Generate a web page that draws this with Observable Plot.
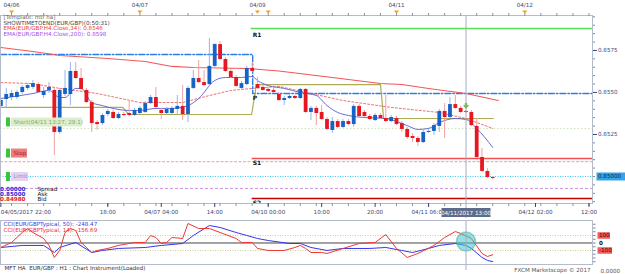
<!DOCTYPE html>
<html>
<head>
<meta charset="utf-8">
<script src="https://cdn.jsdelivr.net/npm/d3@7"></script>
<script src="https://cdn.jsdelivr.net/npm/@observablehq/plot@0.6"></script>
<style>
  html, body { margin: 0; padding: 0; background: #ffffff; }
  #chart { position: relative; width: 625px; height: 274px; overflow: hidden; background: #fff; }
  #chart > div { position: absolute; left: 0; }
</style>
</head>
<body>
<div id="chart"><div id="price" style="top:0px"></div><div id="cci" style="top:218px"></div></div>
<script>
// ---------------- data ----------------
// Heikin-Ashi H1 candles: [bar, open, high, low, close]  (bar 0 = 04/05/2017 22:00)
const candles = [
[0,0.85417,0.85470,0.85405,0.85452],[1,0.85458,0.85524,0.85411,0.85488],[2,0.85470,0.85512,0.85452,0.85494],
[3,0.85470,0.85512,0.85458,0.85500],[4,0.85500,0.85541,0.85488,0.85530],[5,0.85524,0.85553,0.85512,0.85541],
[6,0.85530,0.85571,0.85518,0.85553],[7,0.85547,0.85559,0.85494,0.85500],[8,0.85482,0.85530,0.85464,0.85506],
[9,0.85512,0.85559,0.85494,0.85530],[10,0.85512,0.85524,0.85125,0.85262],[11,0.85262,0.85524,0.85250,0.85512],
[12,0.85488,0.85631,0.85476,0.85524],[13,0.85488,0.85678,0.85422,0.85625],[14,0.85625,0.85678,0.85577,0.85583],
[15,0.85583,0.85643,0.85512,0.85518],[16,0.85512,0.85524,0.85434,0.85440],[17,0.85440,0.85452,0.85262,0.85315],
[18,0.85321,0.85333,0.85274,0.85309],[19,0.85315,0.85375,0.85303,0.85363],[20,0.85369,0.85399,0.85357,0.85387],
[21,0.85381,0.85393,0.85339,0.85345],[22,0.85345,0.85381,0.85339,0.85369],[23,0.85369,0.85381,0.85357,0.85363],
[24,0.85375,0.85452,0.85357,0.85363],[25,0.85363,0.85405,0.85357,0.85393],[26,0.85375,0.85417,0.85369,0.85405],
[27,0.85381,0.85446,0.85375,0.85434],[28,0.85434,0.85482,0.85428,0.85470],[29,0.85470,0.85530,0.85405,0.85411],
[30,0.85393,0.85405,0.85339,0.85375],[31,0.85375,0.85411,0.85369,0.85399],[32,0.85375,0.85417,0.85369,0.85405],
[33,0.85399,0.85482,0.85363,0.85417],[34,0.85417,0.85541,0.85333,0.85369],[35,0.85369,0.85536,0.85321,0.85524],
[36,0.85524,0.85631,0.85518,0.85583],[37,0.85583,0.85690,0.85553,0.85559],[38,0.85559,0.85631,0.85536,0.85541],
[39,0.85547,0.85821,0.85536,0.85655],[40,0.85655,0.85791,0.85649,0.85785],[41,0.85785,0.85803,0.85690,0.85696],
[42,0.85696,0.85708,0.85619,0.85625],[43,0.85625,0.85637,0.85583,0.85589],[44,0.85589,0.85601,0.85530,0.85536],
[45,0.85524,0.85565,0.85512,0.85553],[46,0.85547,0.85655,0.85541,0.85643],[47,0.85643,0.85678,0.85619,0.85625],
[48,0.85547,0.85589,0.85518,0.85524],[49,0.85530,0.85541,0.85506,0.85512],[50,0.85518,0.85530,0.85500,0.85506],
[51,0.85512,0.85524,0.85494,0.85500],[52,0.85488,0.85500,0.85446,0.85452],[53,0.85452,0.85476,0.85422,0.85464],
[54,0.85464,0.85488,0.85458,0.85476],[55,0.85476,0.85482,0.85458,0.85464],[56,0.85464,0.85524,0.85458,0.85518],
[57,0.85518,0.85524,0.85375,0.85381],[58,0.85381,0.85417,0.85333,0.85405],[59,0.85405,0.85417,0.85303,0.85375],
[60,0.85381,0.85422,0.85333,0.85339],[61,0.85339,0.85351,0.85274,0.85280],[62,0.85274,0.85351,0.85256,0.85327],
[63,0.85327,0.85339,0.85286,0.85292],[64,0.85292,0.85339,0.85286,0.85327],[65,0.85327,0.85339,0.85303,0.85309],
[66,0.85309,0.85428,0.85292,0.85417],[67,0.85417,0.85428,0.85351,0.85357],[68,0.85381,0.85393,0.85351,0.85357],
[69,0.85357,0.85369,0.85333,0.85339],[70,0.85333,0.85375,0.85327,0.85363],[71,0.85363,0.85375,0.85339,0.85345],
[72,0.85345,0.85482,0.85321,0.85327],[73,0.85327,0.85363,0.85321,0.85351],[74,0.85345,0.85357,0.85303,0.85309],
[75,0.85315,0.85327,0.85262,0.85280],[76,0.85280,0.85292,0.85220,0.85232],[77,0.85238,0.85256,0.85202,0.85226],
[78,0.85226,0.85238,0.85179,0.85202],[79,0.85202,0.85274,0.85196,0.85262],[80,0.85262,0.85280,0.85256,0.85268],
[81,0.85268,0.85315,0.85244,0.85303],[82,0.85298,0.85399,0.85262,0.85387],[83,0.85387,0.85434,0.85226,0.85351],
[84,0.85351,0.85470,0.85345,0.85428],[85,0.85428,0.85482,0.85399,0.85405],[86,0.85405,0.85417,0.85375,0.85381],
[87,0.85387,0.85393,0.85375,0.85381],[88,0.85381,0.85393,0.85298,0.85303],[89,0.85298,0.85345,0.85107,0.85113],
[90,0.85113,0.85167,0.85024,0.85030],[91,0.85030,0.85048,0.84988,0.84994],[92,0.84994,0.85000,0.84982,0.84988]
];

// EMA(EUR/GBP.H4.Close,34) as drawn on H1 chart: [bar, price]
const ema34H4 = [[0,0.85768],[6,0.85744],[11,0.85720],[20,0.85702],[27,0.85684],[32,0.85655],[36,0.85649],
  [46,0.85643],[52,0.85628],[62,0.85589],[71,0.85553],[75,0.85547],[80,0.85524],[87,0.85494],[93,0.85452]];
// fast moving average (thin purple)
const fastMA = [[0,0.85464],[6,0.85494],[9,0.85512],[11,0.85470],[12,0.85470],[14,0.85524],[15,0.85524],
  [17,0.85440],[19,0.85422],[21,0.85405],[24,0.85393],[26,0.85393],[29,0.85405],[32,0.85405],[35,0.85422],
  [37,0.85464],[40,0.85571],[42,0.85589],[45,0.85589],[47,0.85595],[48,0.85571],[50,0.85541],[53,0.85524],
  [56,0.85500],[59,0.85482],[61,0.85422],[63,0.85381],[65,0.85363],[68,0.85351],[72,0.85345],[76,0.85303],
  [78,0.85280],[80,0.85286],[82,0.85321],[85,0.85345],[87,0.85339],[89,0.85286],[92,0.85173]];
// slower dotted average (light red)
const slowMA = [[0,0.85559],[6,0.85553],[11,0.85524],[18,0.85494],[26,0.85440],[34,0.85440],[39,0.85482],
  [43,0.85512],[47,0.85524],[52,0.85536],[64,0.85452],[73,0.85411],[82,0.85381],[87,0.85345],[92,0.85286]];
// olive step line
const oliveLine = [[0,0.85411],[22.8,0.85411],[23.9,0.85369],[46.9,0.85369],[47.8,0.85547],[71,0.85547],
  [71.6,0.85345],[92.1,0.85345]];
// weekly pivot (blue dash-dot): previous week then current week
const pivotLine = [[0,0.85726],[47.1,0.85726],[47.1,0.85494],[110.66,0.85494]];
const pivotStartBar = 47;
const r1Level = 0.85881, pLevel = 0.85494, s1Level = 0.85107, s2Level = 0.84869;
// order / quote levels
const shortLevel = 0.85286, stopLevel = 0.85089, limitLevel = 0.85000, lowerLevel = 0.84929;

// axes
const xDom = [-0.07, 110.66];
const yDom = [0.848393, 0.85958];
const topTickBars = [2, 26, 48, 74, 98];
const topTickLabels = ["04/06", "04/07", "04/09", "04/11", "04/12"];
const dayMarkerBars = [2, 26, 48, 50, 74, 98];
const timeTickBars = [20, 30, 40, 50, 60, 70, 80, 100, 110];
const timeTickLabels = ["18:00", "04/07 04:00", "14:00", "04/10 00:00", "10:00", "20:00", "04/11 06:00", "04/12 02:00", "12:00"];
const firstTimeLabel = "04/05/2017 22:00";
const cursorBar = 87;
const cursorLabel = "04/11/2017 13:00";
const priceTicks = [0.8575, 0.8550, 0.8525];
const currentPriceLabel = "0.85000";

// texts
const legendTexts = ["[Template: mtf ha]", "SHOWTIMETOEND(EUR/GBP)(0:50:31)",
  "EMA(EUR/GBP.H4.Close,34): 0.8546", "EMA(EUR/GBP.H4.Close,200): 0.8598"];
const legendColors = ["#6a6a6a", "#444444", "#f03a3a", "#a24ef0"];
const quoteValues = ["0.00000", "0.85000", "0.84980"];
const quoteNames = ["Spread", "Ask", "Bid"];
const quoteColors = ["#2a2ad8", "#2a2ad8", "#e02020"];

// CCI: [bar, value]
const cci50 = [[0,-60],[4,-33],[8,-33],[10,-127],[11,-60],[14,7],[17,-127],[19,-100],[22,-73],[27,-60],
  [30,-33],[34,-7],[36,100],[39,233],[41,207],[44,140],[46,100],[48,60],[50,33],[54,-7],[56,-7],[58,-60],
  [61,-100],[64,-73],[69,-73],[72,-60],[75,-100],[77,-127],[80,-73],[82,-33],[85,-7],[87,-33],[88,-73],
  [90,-193],[91,-233],[92,-248]];
const cci14 = [[0,-60],[2,7],[4,140],[5,193],[6,140],[8,60],[9,-33],[10,-193],[11,-100],[12,140],[13,193],
  [14,167],[15,7],[17,-127],[18,-100],[20,-73],[22,-33],[25,7],[27,7],[28,100],[29,73],[30,-7],[31,7],[32,73],
  [34,60],[35,260],[37,193],[39,193],[41,140],[44,60],[45,7],[47,7],[48,-73],[50,-100],[53,-100],[55,-60],
  [56,-33],[57,-73],[58,-127],[60,-127],[61,-140],[64,-73],[67,-7],[70,7],[72,113],[74,-73],[76,-193],
  [78,-140],[81,-33],[83,73],[85,153],[86,127],[88,60],[90,-140],[91,-180],[92,-157]];
const cciDomain = [-287, 300];
const cciLevels = [100, -100];
const cciLegend = ["CCI(EUR/GBPTypical, 50): -248.47", "CCI(EUR/GBPTypical, 14): -156.69"];
const statusText = "MFT HA  EUR/GBP : H1 : Chart Instrument(Loaded)";
const creditText = "FXCM Marketscope \u00a9 2017";
const cciZeroValue = "0.0000";

// ---------------- drawing ----------------
const FONT = "'DejaVu Sans', Verdana, sans-serif";
const FS = 5.6;
const X = d => d[0], Y = d => d[1];
const bars = candles.map(([i, o, h, l, c]) => ({i, o, h, l, c}));
const up = bars.filter(d => d.c >= d.o), down = bars.filter(d => d.c < d.o);
const topLabel = new Map(topTickBars.map((b, k) => [b, topTickLabels[k]]));
const timeLabel = new Map(timeTickBars.map((b, k) => [b, timeTickLabels[k]]));
const downTri = {draw(ctx, size) { const s = Math.sqrt(size) * 0.9; ctx.moveTo(-s, -s * 0.55); ctx.lineTo(s, -s * 0.55); ctx.lineTo(0, s * 0.65); ctx.closePath(); }};
const styleBase = {fontFamily: FONT, fontSize: FS + "px", color: "#3b4670", background: "transparent"};

const price = Plot.plot({
  width: 625, height: 218,
  marginTop: 15, marginBottom: 15, marginLeft: 0, marginRight: 33,
  x: {domain: xDom},
  y: {domain: yDom},
  style: styleBase,
  marks: [
    // horizontal levels
    Plot.ruleY([shortLevel], {y: d => d, stroke: "#cbe2ba", strokeDasharray: "1.5,2"}),
    Plot.ruleY([stopLevel], {y: d => d, stroke: "#f7b0b0", strokeDasharray: "3,1.5", strokeWidth: 1.3}),
    Plot.ruleY([limitLevel], {y: d => d, stroke: "#3fc0f0", strokeDasharray: "1,1.5"}),
    Plot.ruleY([lowerLevel], {y: d => d, stroke: "#c595e6", strokeDasharray: "3,2"}),
    Plot.ruleY([r1Level], {y: d => d, x1: () => pivotStartBar - 0.2, x2: () => xDom[1], stroke: "#58e058", strokeWidth: 1.4}),
    Plot.ruleY([s1Level], {y: d => d, x1: () => pivotStartBar, x2: () => xDom[1], stroke: "#f25050", strokeWidth: 1.3}),
    Plot.ruleY([s2Level], {y: d => d, x1: () => pivotStartBar, x2: () => xDom[1], stroke: "#c40000", strokeWidth: 1.5}),
    Plot.line(pivotLine, {x: X, y: Y, stroke: "#2c7ee6", strokeWidth: 1.4, strokeDasharray: "6,2,1.5,2"}),
    Plot.line(oliveLine, {x: X, y: Y, stroke: "#b2ab55", strokeWidth: 1.2}),
    // moving averages
    Plot.line(ema34H4, {x: X, y: Y, stroke: "#f25656", strokeWidth: 1.1}),
    Plot.line(slowMA, {x: X, y: Y, stroke: "#f27070", strokeWidth: 1, strokeDasharray: "2,2"}),
    Plot.line(fastMA, {x: X, y: Y, stroke: "#5a5ad2", strokeWidth: 0.9, curve: "monotone-x"}),
    // candles
    Plot.ruleX(up, {x: "i", y1: "l", y2: "h", stroke: "#8fb9ec", strokeWidth: 1}),
    Plot.ruleX(down, {x: "i", y1: "l", y2: "h", stroke: "#f3a0a0", strokeWidth: 1}),
    Plot.ruleX(up, {x: "i", y1: "o", y2: "c", stroke: "#1762c6", strokeWidth: 3.8}),
    Plot.ruleX(down, {x: "i", y1: "o", y2: "c", stroke: "#e5171f", strokeWidth: 3.8}),
    // sell signal arrow
    Plot.ruleX([cursorBar], {x: d => d, y1: () => 0.85434, y2: () => 0.85417, stroke: "#5cc21e", strokeWidth: 2.4}),
    Plot.dot([cursorBar], {x: d => d, y: () => 0.85414, r: 1.9, symbol: downTri, fill: "#5cc21e"}),
    // frame + cursor
    Plot.frame({stroke: "#b4bccb"}),
    Plot.ruleX([cursorBar], {x: d => d, stroke: "#a3acbf", insetBottom: -15}),
    // pivot labels
    Plot.text(["R1"], {x: () => pivotStartBar, y: () => r1Level, dx: 0.5, dy: 7, text: d => d, textAnchor: "start", fontWeight: "bold", fill: "#111", fontSize: 6}),
    Plot.text(["P"], {x: () => pivotStartBar, y: () => pLevel, dx: 0.5, dy: 4.5, text: d => d, textAnchor: "start", fontWeight: "bold", fill: "#111", fontSize: 6}),
    Plot.text(["S1"], {x: () => pivotStartBar, y: () => s1Level, dx: 0.5, dy: 4.5, text: d => d, textAnchor: "start", fontWeight: "bold", fill: "#111", fontSize: 6}),
    Plot.text(["S2"], {x: () => pivotStartBar, y: () => s2Level, dx: 0.5, dy: 4.5, text: d => d, textAnchor: "start", fontWeight: "bold", fill: "#111", fontSize: 6, clip: true}),
    // order labels at left
    Plot.tickY([shortLevel], {y: d => d, dy: -6.5, insetLeft: 6, insetRight: 582, stroke: "#3cc43c", strokeWidth: 9}),
    Plot.tickY([shortLevel], {y: d => d, dy: -6.5, insetLeft: 11, insetRight: 510, stroke: "#dcefcc", strokeWidth: 9}),
    Plot.text(["Short(04/11 13:27, 29.1)"], {frameAnchor: "left", y: () => shortLevel, dy: -6.5, dx: 13, text: d => d, textAnchor: "start", fill: "#8ea274"}),
    Plot.tickY([stopLevel], {y: d => d, dy: -8.5, insetLeft: 6, insetRight: 582, stroke: "#3cc43c", strokeWidth: 9}),
    Plot.tickY([stopLevel], {y: d => d, dy: -8.5, insetLeft: 11, insetRight: 565, stroke: "#f27c7c", strokeWidth: 9}),
    Plot.text(["Stop"], {frameAnchor: "left", y: () => stopLevel, dy: -8.5, dx: 13, text: d => d, textAnchor: "start", fill: "#a51d25"}),
    Plot.tickY([limitLevel], {y: d => d, insetLeft: 6, insetRight: 582, stroke: "#3cc43c", strokeWidth: 9}),
    Plot.tickY([limitLevel], {y: d => d, insetLeft: 11, insetRight: 564, stroke: "#e4d3f3", strokeWidth: 9}),
    Plot.text(["Limit"], {frameAnchor: "left", y: () => limitLevel, dx: 13, text: d => d, textAnchor: "start", fill: "#a087c0"}),
    // quote block
    ...quoteValues.map((v, k) => Plot.text([v], {frameAnchor: "bottom-left", dx: -0.5, dy: [-14, -9, -4][k], lineAnchor: "middle", textAnchor: "start", text: d => d, fill: quoteColors[k], fontWeight: "bold"})),
    ...quoteNames.map((v, k) => Plot.text([v], {frameAnchor: "bottom-left", dx: 37, dy: [-14, -9, -4][k], lineAnchor: "middle", textAnchor: "start", text: d => d, fill: "#111"})),
    // legend
    ...legendTexts.map((t, k) => Plot.text([t], {frameAnchor: "top-left", dx: 3, dy: [2, 7.3, 12.8, 18.3][k], lineAnchor: "middle", textAnchor: "start", text: d => d, fill: legendColors[k]})),
    // right price axis
    Plot.axisY({anchor: "right", ticks: d3.range(0.8485, 0.85951, 0.0005), tickSize: 2, tickFormat: () => "", label: null, color: "#7f879c"}),
    Plot.axisY({anchor: "right", ticks: priceTicks, tickSize: 4, tickPadding: 1.5, tickFormat: d3.format(".4f"), label: null, color: "#3b4a80"}),
    Plot.tickY([limitLevel], {y: d => d, insetLeft: 596.5, insetRight: -33, stroke: "#35a4e6", strokeWidth: 8}),
    Plot.text([currentPriceLabel], {frameAnchor: "right", y: () => limitLevel, dx: 5.5, text: d => d, textAnchor: "start", fill: "#0b2456"}),
    // top date axis
    Plot.axisX({anchor: "top", ticks: d3.range(2, 111, 3), tickSize: 3, tickFormat: () => "", label: null, color: "#8a92a8"}),
    Plot.axisX({anchor: "top", ticks: topTickBars, tickSize: 0, tickPadding: 8.5, tickFormat: d => topLabel.get(d), label: null, color: "#3b4670"}),
    Plot.dot(dayMarkerBars, {x: d => d, frameAnchor: "top", dy: -3.5, r: 1.6, symbol: downTri, fill: "#f5a020"}),
    // bottom time axis
    Plot.axisX({anchor: "bottom", ticks: d3.range(2, 111, 3), tickSize: 3, tickFormat: () => "", label: null, color: "#8a92a8"}),
    Plot.axisX({anchor: "bottom", ticks: timeTickBars, tickSize: 4, tickPadding: 3, tickFormat: d => timeLabel.get(d), label: null, color: "#3b4670"}),
    Plot.axisX({anchor: "bottom", ticks: [0], tickSize: 4, tickPadding: 3, textAnchor: "start", tickFormat: () => firstTimeLabel, label: null, color: "#3b4670"}),
    Plot.ruleX([cursorBar], {x: d => d, stroke: "#5d6c8c", strokeWidth: 49, insetTop: 193, insetBottom: -14}),
    Plot.text([cursorLabel], {x: () => cursorBar, frameAnchor: "bottom", dy: 9.5, lineAnchor: "middle", text: d => d, fill: "#ffffff"})
  ]
});
document.getElementById("price").appendChild(price);

const cci = Plot.plot({
  width: 625, height: 56,
  marginTop: 2, marginBottom: 10, marginLeft: 0, marginRight: 33,
  x: {domain: xDom, axis: null},
  y: {domain: cciDomain, axis: null},
  style: styleBase,
  marks: [
    Plot.ruleY(cciLevels, {y: d => d, stroke: "#cbcb94", strokeDasharray: "1,1.5"}),
    Plot.ruleY([0], {y: d => d, stroke: "#444", strokeWidth: 1}),
    Plot.line(cci50, {x: X, y: Y, stroke: "#3636e8", strokeWidth: 1}),
    Plot.line(cci14, {x: X, y: Y, stroke: "#f03636", strokeWidth: 1}),
    Plot.dot([[cursorBar, 20]], {x: X, y: Y, r: 9.5, fill: "#45c3c7", fillOpacity: 0.55, stroke: "#3aaeb4", strokeOpacity: 0.5}),
    Plot.ruleX([cursorBar], {x: d => d, stroke: "#a3acbf", insetBottom: -6}),
    Plot.frame({stroke: "#b4bccb"}),
    Plot.axisY({anchor: "right", ticks: d3.range(-250, 300, 50), tickSize: 2.5, tickFormat: () => "", label: null, color: "#7f879c"}),
    Plot.tickY([100], {y: d => d, insetLeft: 597.5, insetRight: -18, stroke: "#f25a5a", strokeWidth: 6.5}),
    Plot.tickY([-100], {y: d => d, insetLeft: 597.5, insetRight: -20, stroke: "#f25a5a", strokeWidth: 6.5}),
    Plot.text(["100"], {frameAnchor: "right", y: () => 100, dx: 6.5, text: d => d, textAnchor: "start", fill: "#3a0a0a"}),
    Plot.text(["0"], {frameAnchor: "right", y: () => 0, dx: 6.5, text: d => d, textAnchor: "start", fill: "#111", fontWeight: "bold"}),
    Plot.text(["-100"], {frameAnchor: "right", y: () => -100, dx: 6.5, text: d => d, textAnchor: "start", fill: "#3a0a0a"}),
    Plot.text([cciLegend[0]], {frameAnchor: "top-left", dx: 3, dy: 3.3, lineAnchor: "middle", textAnchor: "start", text: d => d, fill: "#3a3ae0"}),
    Plot.text([cciLegend[1]], {frameAnchor: "top-left", dx: 3, dy: 9.7, lineAnchor: "middle", textAnchor: "start", text: d => d, fill: "#ee2e2e"}),
    Plot.text([statusText], {frameAnchor: "bottom-left", dx: 4, dy: 3.8, lineAnchor: "middle", textAnchor: "start", text: d => d, fill: "#333"}),
    Plot.text([creditText], {frameAnchor: "bottom-right", dx: -2, dy: 6, lineAnchor: "middle", textAnchor: "end", text: d => d, fill: "#555"}),
    Plot.text([cciZeroValue], {frameAnchor: "bottom-right", dx: 8, dy: 6.5, lineAnchor: "middle", textAnchor: "start", text: d => d, fill: "#555"})
  ]
});
document.getElementById("cci").appendChild(cci);
</script>
</body>
</html>
